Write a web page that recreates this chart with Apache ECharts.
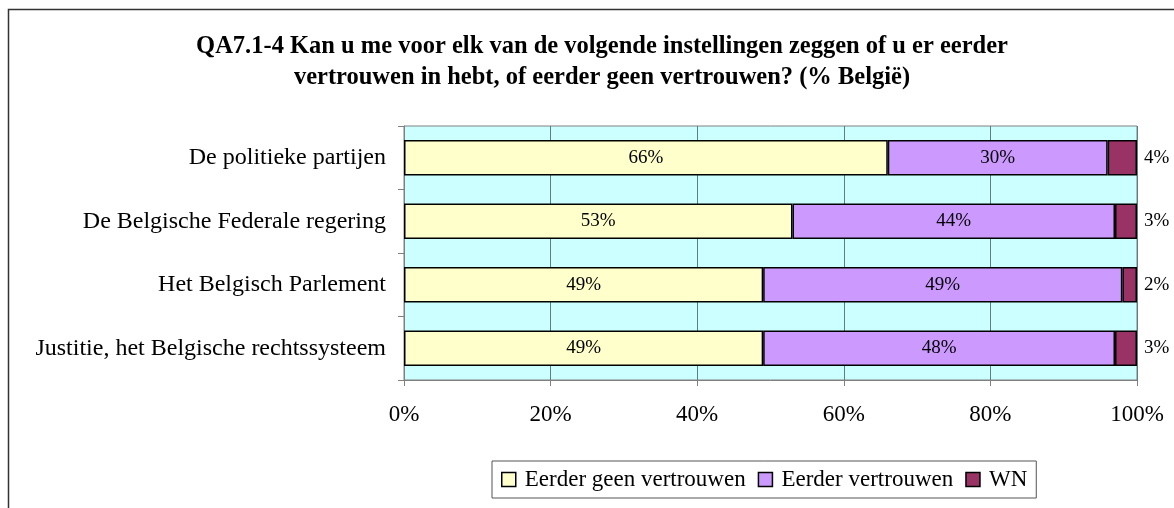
<!DOCTYPE html>
<html>
    <head>
        <meta charset="utf-8">
        <title>QA7.1-4</title>
        <script src="https://cdn.jsdelivr.net/npm/echarts@6/dist/echarts.min.js"></script>
        <style>
            body { margin: 0; background: #fff; }
        </style>
    </head>
    <body>
        <div id="main" style="width: 1174px;height: 508px;"></div>

        <script>
            let categories = ['De politieke partijen', 'De Belgische Federale regering', 'Het Belgisch Parlement', 'Justitie, het Belgische rechtssysteem'];
            let geen = [66, 53, 49, 49];
            let wel = [30, 44, 49, 48];
            let wn = [4, 3, 2, 3];
            let seriesNames = ['Eerder geen vertrouwen', 'Eerder vertrouwen', 'WN'];
            let colors = ['#FFFFCC', '#CC99FF', '#993366'];
            let font = '"Liberation Serif", "Times New Roman", serif';

            function makeSeries(idx, data) {
                return {
                    name: seriesNames[idx],
                    type: 'bar',
                    stack: 'tot',
                    data: data,
                    barCategoryGap: '44%',
                    itemStyle: { color: colors[idx], borderColor: '#000', borderWidth: 1.5 },
                    label: idx < 2 ? {
                        show: true, position: 'inside', formatter: '{c}%',
                        color: '#000', fontFamily: font, fontSize: 19
                    } : {
                        show: true, position: 'right', distance: 7, formatter: '{c}%',
                        color: '#000', fontFamily: font, fontSize: 19
                    },
                    emphasis: { disabled: true }
                };
            }

            var option = {
                animation: false,
                color: colors,
                title: {
                    text: 'QA7.1-4 Kan u me voor elk van de volgende instellingen zeggen of u er eerder\nvertrouwen in hebt, of eerder geen vertrouwen? (% België)',
                    left: 597,
                    top: 26,
                    textAlign: 'center',
                    textStyle: { fontFamily: font, fontWeight: 'bold', fontSize: 24.5, lineHeight: 31, color: '#000' }
                },
                legend: {
                    data: seriesNames,
                    left: 492,
                    top: 461,
                    padding: [7, 9, 7, 9],
                    borderColor: '#555',
                    borderWidth: 1,
                    itemWidth: 14,
                    itemHeight: 14,
                    itemGap: 12,
                    icon: 'rect',
                    itemStyle: { borderColor: '#000', borderWidth: 1.5 },
                    textStyle: { fontFamily: font, fontSize: 23, color: '#000', padding: [0, 0, 0, 4] }
                },
                grid: {
                    left: 404,
                    right: 37,
                    top: 126,
                    bottom: 128,
                    show: true,
                    backgroundColor: '#CCFFFF',
                    borderColor: '#808080',
                    borderWidth: 1
                },
                xAxis: {
                    type: 'value',
                    min: 0,
                    max: 100,
                    interval: 20,
                    axisLine: { show: true, lineStyle: { color: '#808080' } },
                    axisTick: { show: true, length: 6, lineStyle: { color: '#808080' } },
                    splitLine: { show: true, lineStyle: { color: '#5f7f7f', width: 1 } },
                    axisLabel: { formatter: '{value}%', margin: 23, fontFamily: font, fontSize: 23, color: '#000' }
                },
                yAxis: {
                    type: 'category',
                    data: categories,
                    inverse: true,
                    axisLine: { show: true, lineStyle: { color: '#808080' } },
                    axisTick: { show: true, length: 6, lineStyle: { color: '#808080' } },
                    axisLabel: { margin: 18, fontFamily: font, fontSize: 24, color: '#000' }
                },
                graphic: [{
                    type: 'rect',
                    shape: { x: 8.5, y: 9.5, width: 1300, height: 700 },
                    style: { fill: 'none', stroke: '#333', lineWidth: 1.5 },
                    silent: true
                }],
                series: [
                    makeSeries(0, geen),
                    makeSeries(1, wel),
                    makeSeries(2, wn)
                ]
            };
            let chart = echarts.init(document.getElementById('main'));
            chart.setOption(option);
        </script>
    </body>
</html>
